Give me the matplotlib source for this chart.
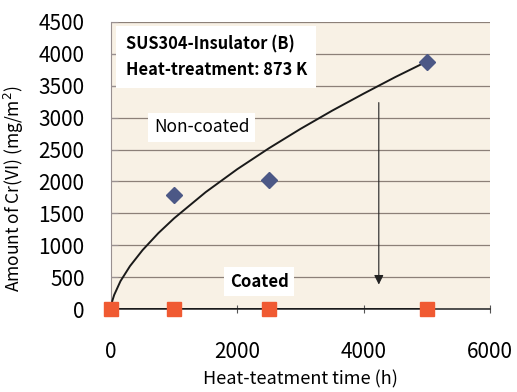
import matplotlib.pyplot as plt

plt.rcParams['font.family'] = ['Noto Sans CJK JP', 'DejaVu Sans']

# measured points
time_h = [0, 1000, 2500, 5000]
non_coated = [0, 1780, 2020, 3870]
coated = [0, 0, 0, 0]

# power trend line through the non-coated data
trend_x = [0, 20, 50, 150, 300, 500, 750, 1000, 1500, 2000, 2500, 3000, 3500, 4000, 4500, 5000]
trend_y = [0, 125, 220, 437, 672, 924, 1190, 1423, 1833, 2193, 2520, 2824, 3109, 3377, 3636, 3880]

fig = plt.figure(figsize=(5.17, 3.92), dpi=100)
ax = fig.add_axes([0.2147, 0.2117, 0.733, 0.7322])
ax.set_facecolor('#f8f1e5')

ax.set_xlim(0, 6000)
ax.set_ylim(0, 4500)
ax.set_xticks([0, 2000, 4000, 6000])
ax.set_yticks(range(0, 4501, 500))
ax.yaxis.grid(True, color='#8c8078', linewidth=0.9)
ax.set_axisbelow(True)

for s in ['top', 'right']:
    ax.spines[s].set_visible(False)
ax.spines['left'].set_color('#999090')
ax.spines['left'].set_linewidth(0.8)
ax.spines['bottom'].set_color('#333333')
ax.spines['bottom'].set_linewidth(1.2)

ax.tick_params(axis='y', direction='in', length=5, pad=19, labelsize=15, color='#999090')
ax.tick_params(axis='x', direction='inout', length=6, pad=20, labelsize=15, color='#555555')

ax.plot(trend_x, trend_y, color='#1a1a1a', linewidth=1.4, zorder=3)
ax.plot([time_h[0], time_h[-1]], [coated[0], coated[-1]], color='#1a1a1a', linewidth=1.4, zorder=3)
ax.plot(time_h[1:], non_coated[1:], linestyle='none', marker='D', markersize=8,
        color='#4c5886', zorder=4, clip_on=False)
ax.plot(time_h, coated, linestyle='none', marker='s', markersize=10,
        color='#f05a32', zorder=5, clip_on=False)

# arrow from non-coated level down to coated level
ax.annotate('', xy=(4240, 340), xytext=(4240, 3280),
            arrowprops=dict(arrowstyle='-|>', color='#222222', lw=0.8,
                            mutation_scale=14))

box = dict(facecolor='white', edgecolor='none', pad=4)
ax.text(230, 3950, 'SUS304-Insulator (B)\nHeat-treatment: 873 K', fontsize=11.8,
        fontweight='bold', va='center', ha='left', linespacing=1.5,
        bbox=dict(facecolor='white', edgecolor='none', pad=7))
ax.text(680, 2850, 'Non-coated', fontsize=12.5, va='center', ha='left', bbox=box)
ax.text(1880, 430, 'Coated', fontsize=12, fontweight='bold', va='center', ha='left', bbox=box)

ax.set_ylabel('Amount of Cr(VI) (mg/m$^2$)', fontsize=12.5)
ax.yaxis.set_label_coords(-0.225, 0.42)
ax.set_xlabel('Heat-teatment time (h)', fontsize=13, labelpad=5)

fig.savefig('out.png', dpi=100)
